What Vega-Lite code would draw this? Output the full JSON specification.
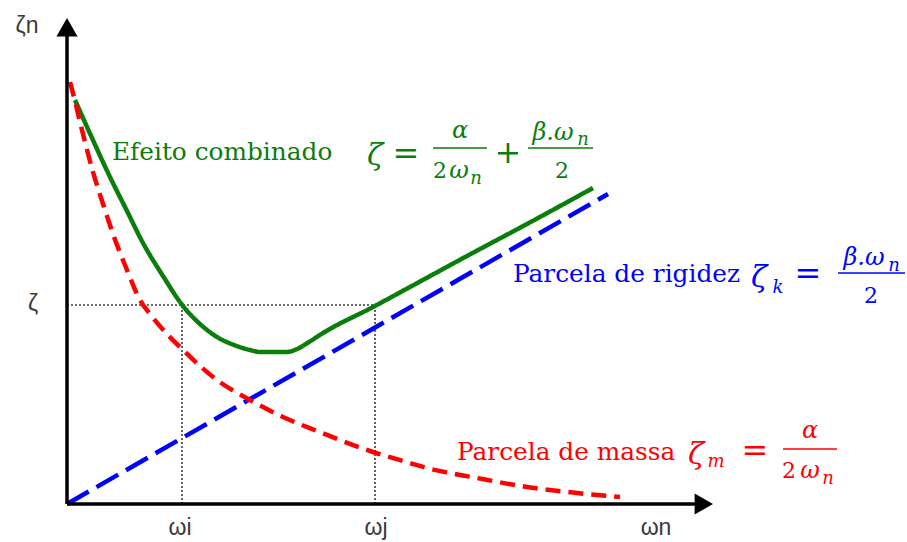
{
  "$schema": "https://vega.github.io/schema/vega-lite/v6.json",
  "width": 646,
  "height": 486,
  "autosize": {"type": "none"},
  "padding": {"left": 67, "top": 18, "right": 194, "bottom": 38},
  "background": "white",
  "config": {"view": {"stroke": null}},
  "datasets": {
    "curvas": [
      {"serie": "comb", "x": 8, "y": 404},
      {"serie": "comb", "x": 25, "y": 366},
      {"serie": "comb", "x": 43, "y": 327},
      {"serie": "comb", "x": 60, "y": 293},
      {"serie": "comb", "x": 76, "y": 261},
      {"serie": "comb", "x": 96, "y": 228},
      {"serie": "comb", "x": 116, "y": 198},
      {"serie": "comb", "x": 133, "y": 180},
      {"serie": "comb", "x": 150, "y": 167},
      {"serie": "comb", "x": 167, "y": 159},
      {"serie": "comb", "x": 183, "y": 154},
      {"serie": "comb", "x": 193, "y": 152},
      {"serie": "comb", "x": 220, "y": 152},
      {"serie": "comb", "x": 230, "y": 155},
      {"serie": "comb", "x": 242, "y": 162},
      {"serie": "comb", "x": 256, "y": 171},
      {"serie": "comb", "x": 306, "y": 197},
      {"serie": "comb", "x": 343, "y": 217},
      {"serie": "comb", "x": 400, "y": 248},
      {"serie": "comb", "x": 460, "y": 280},
      {"serie": "comb", "x": 526, "y": 316},
      {"serie": "rig", "x": 0, "y": 0},
      {"serie": "rig", "x": 541, "y": 310},
      {"serie": "massa", "x": 3, "y": 422},
      {"serie": "massa", "x": 8, "y": 403},
      {"serie": "massa", "x": 13, "y": 382},
      {"serie": "massa", "x": 19, "y": 358},
      {"serie": "massa", "x": 26, "y": 332},
      {"serie": "massa", "x": 36, "y": 300},
      {"serie": "massa", "x": 46, "y": 270},
      {"serie": "massa", "x": 60, "y": 234},
      {"serie": "massa", "x": 73, "y": 204},
      {"serie": "massa", "x": 83, "y": 190},
      {"serie": "massa", "x": 100, "y": 170},
      {"serie": "massa", "x": 116, "y": 154},
      {"serie": "massa", "x": 133, "y": 138},
      {"serie": "massa", "x": 150, "y": 124},
      {"serie": "massa", "x": 183, "y": 104},
      {"serie": "massa", "x": 216, "y": 87},
      {"serie": "massa", "x": 250, "y": 73},
      {"serie": "massa", "x": 306, "y": 52},
      {"serie": "massa", "x": 343, "y": 41},
      {"serie": "massa", "x": 360, "y": 36},
      {"serie": "massa", "x": 410, "y": 26},
      {"serie": "massa", "x": 460, "y": 17},
      {"serie": "massa", "x": 510, "y": 11},
      {"serie": "massa", "x": 553, "y": 7}
    ],
    "linhas": [
      {"tipo": "eixo", "x": 0, "y": 0, "x2": 0, "y2": 472},
      {"tipo": "eixo", "x": 0, "y": 0, "x2": 632, "y2": 0},
      {"tipo": "guia", "x": 0, "y": 199, "x2": 308, "y2": 199},
      {"tipo": "guia", "x": 115, "y": 0, "x2": 115, "y2": 199},
      {"tipo": "guia", "x": 308, "y": 0, "x2": 308, "y2": 199}
    ],
    "setas": [
      {"eixo": "y", "x": 0, "y": 476.8},
      {"eixo": "x", "x": 636.8, "y": 0}
    ],
    "fracoes": [
      {"serie": "comb", "x": 366, "x2": 420, "y": 356},
      {"serie": "comb", "x": 461, "x2": 526, "y": 356},
      {"serie": "rig", "x": 771, "x2": 838, "y": 231},
      {"serie": "massa", "x": 716, "x2": 770, "y": 55}
    ],
    "rotulos": [
      {"tipo": "nome", "serie": "comb", "text": "Efeito combinado", "x": 45, "y": 344},
      {"tipo": "nome", "serie": "rig", "text": "Parcela de rigidez", "x": 446, "y": 222},
      {"tipo": "nome", "serie": "massa", "text": "Parcela de massa", "x": 390, "y": 44},
      {"tipo": "zeta", "serie": "comb", "text": "ζ", "x": 308, "y": 339},
      {"tipo": "zeta", "serie": "rig", "text": "ζ", "x": 692, "y": 217},
      {"tipo": "zeta", "serie": "massa", "text": "ζ", "x": 629, "y": 40},
      {"tipo": "op", "serie": "comb", "text": "=", "x": 339, "y": 340},
      {"tipo": "op", "serie": "comb", "text": "+", "x": 441, "y": 341},
      {"tipo": "op", "serie": "rig", "text": "=", "x": 741, "y": 220},
      {"tipo": "op", "serie": "massa", "text": "=", "x": 688, "y": 43},
      {"tipo": "letra", "serie": "comb", "text": "α", "x": 393, "y": 366},
      {"tipo": "letra", "serie": "comb", "text": "ω", "x": 392, "y": 326},
      {"tipo": "letra", "serie": "comb", "text": "β.ω", "x": 486, "y": 364},
      {"tipo": "letra", "serie": "rig", "text": "β.ω", "x": 797, "y": 239},
      {"tipo": "letra", "serie": "massa", "text": "α", "x": 743, "y": 66},
      {"tipo": "letra", "serie": "massa", "text": "ω", "x": 743, "y": 26},
      {"tipo": "digito", "serie": "comb", "text": "2", "x": 373, "y": 326},
      {"tipo": "digito", "serie": "comb", "text": "2", "x": 495, "y": 326},
      {"tipo": "digito", "serie": "rig", "text": "2", "x": 804, "y": 201},
      {"tipo": "digito", "serie": "massa", "text": "2", "x": 722, "y": 26},
      {"tipo": "indice", "serie": "comb", "text": "n", "x": 409, "y": 320},
      {"tipo": "indice", "serie": "comb", "text": "n", "x": 516, "y": 359},
      {"tipo": "indice", "serie": "rig", "text": "k", "x": 711, "y": 211},
      {"tipo": "indice", "serie": "rig", "text": "n", "x": 827, "y": 233},
      {"tipo": "indice", "serie": "massa", "text": "m", "x": 649, "y": 37},
      {"tipo": "indice", "serie": "massa", "text": "n", "x": 761, "y": 20}
    ],
    "eixos_rot": [
      {"text": "ωi", "x": 113, "y": -31},
      {"text": "ωj", "x": 309, "y": -31},
      {"text": "ωn", "x": 589, "y": -31},
      {"text": "ζ", "x": -34, "y": 193},
      {"text": "ζn", "x": -40, "y": 471}
    ]
  },
  "encoding": {
    "x": {"field": "x", "type": "quantitative", "scale": {"domain": [0, 646], "nice": false, "zero": false}, "axis": null},
    "y": {"field": "y", "type": "quantitative", "scale": {"domain": [0, 486], "nice": false, "zero": false}, "axis": null}
  },
  "layer": [
    {
      "data": {"name": "linhas"},
      "transform": [{"filter": "datum.tipo === 'guia'"}],
      "mark": {"type": "rule", "color": "#3c3c3c", "strokeWidth": 1.6, "strokeDash": [2, 2]},
      "encoding": {"x2": {"field": "x2"}, "y2": {"field": "y2"}}
    },
    {
      "data": {"name": "curvas"},
      "mark": {"type": "line", "strokeWidth": 4.5, "interpolate": "monotone", "strokeCap": "butt"},
      "encoding": {
        "color": {"field": "serie", "type": "nominal", "scale": {"domain": ["comb", "rig", "massa"], "range": ["#0b7d0b", "#0000ff", "#ff0000"]}, "legend": null},
        "strokeDash": {"field": "serie", "type": "nominal", "scale": {"domain": ["comb", "rig", "massa"], "range": [[1, 0], [25, 9], [15, 8]]}, "legend": null},
        "order": {"field": "x", "type": "quantitative"}
      }
    },
    {
      "data": {"name": "linhas"},
      "transform": [{"filter": "datum.tipo === 'eixo'"}],
      "mark": {"type": "rule", "color": "#000000", "strokeWidth": 3.5},
      "encoding": {"x2": {"field": "x2"}, "y2": {"field": "y2"}}
    },
    {
      "data": {"name": "setas"},
      "mark": {"type": "point", "filled": true, "color": "#000000", "opacity": 1, "size": 450},
      "encoding": {
        "shape": {"field": "eixo", "type": "nominal", "scale": {"domain": ["y", "x"], "range": ["triangle-up", "triangle-right"]}, "legend": null}
      }
    },
    {
      "data": {"name": "fracoes"},
      "mark": {"type": "rule", "strokeWidth": 1.5},
      "encoding": {
        "x2": {"field": "x2"},
        "color": {"field": "serie", "type": "nominal", "legend": null}
      }
    },
    {
      "data": {"name": "rotulos"},
      "transform": [{"filter": "datum.tipo === 'nome'"}],
      "mark": {"type": "text", "font": "DejaVu Serif", "fontSize": 24.8, "align": "left", "baseline": "alphabetic"},
      "encoding": {"text": {"field": "text"}, "color": {"field": "serie", "type": "nominal", "legend": null}}
    },
    {
      "data": {"name": "rotulos"},
      "transform": [{"filter": "datum.tipo === 'zeta'"}],
      "mark": {"type": "text", "font": "DejaVu Serif", "fontStyle": "italic", "fontSize": 30, "align": "center", "baseline": "alphabetic"},
      "encoding": {"text": {"field": "text"}, "color": {"field": "serie", "type": "nominal", "legend": null}}
    },
    {
      "data": {"name": "rotulos"},
      "transform": [{"filter": "datum.tipo === 'op'"}],
      "mark": {"type": "text", "font": "DejaVu Serif", "fontSize": 32, "align": "center", "baseline": "alphabetic"},
      "encoding": {"text": {"field": "text"}, "color": {"field": "serie", "type": "nominal", "legend": null}}
    },
    {
      "data": {"name": "rotulos"},
      "transform": [{"filter": "datum.tipo === 'letra'"}],
      "mark": {"type": "text", "font": "DejaVu Serif", "fontStyle": "italic", "fontSize": 24, "align": "center", "baseline": "alphabetic"},
      "encoding": {"text": {"field": "text"}, "color": {"field": "serie", "type": "nominal", "legend": null}}
    },
    {
      "data": {"name": "rotulos"},
      "transform": [{"filter": "datum.tipo === 'digito'"}],
      "mark": {"type": "text", "font": "DejaVu Serif", "fontSize": 22, "align": "center", "baseline": "alphabetic"},
      "encoding": {"text": {"field": "text"}, "color": {"field": "serie", "type": "nominal", "legend": null}}
    },
    {
      "data": {"name": "rotulos"},
      "transform": [{"filter": "datum.tipo === 'indice'"}],
      "mark": {"type": "text", "font": "DejaVu Serif", "fontStyle": "italic", "fontSize": 18, "align": "center", "baseline": "alphabetic"},
      "encoding": {"text": {"field": "text"}, "color": {"field": "serie", "type": "nominal", "legend": null}}
    },
    {
      "data": {"name": "eixos_rot"},
      "mark": {"type": "text", "font": "Liberation Sans", "fontSize": 23, "align": "center", "baseline": "alphabetic", "color": "#3a3a3a"},
      "encoding": {"text": {"field": "text"}}
    }
  ]
}
